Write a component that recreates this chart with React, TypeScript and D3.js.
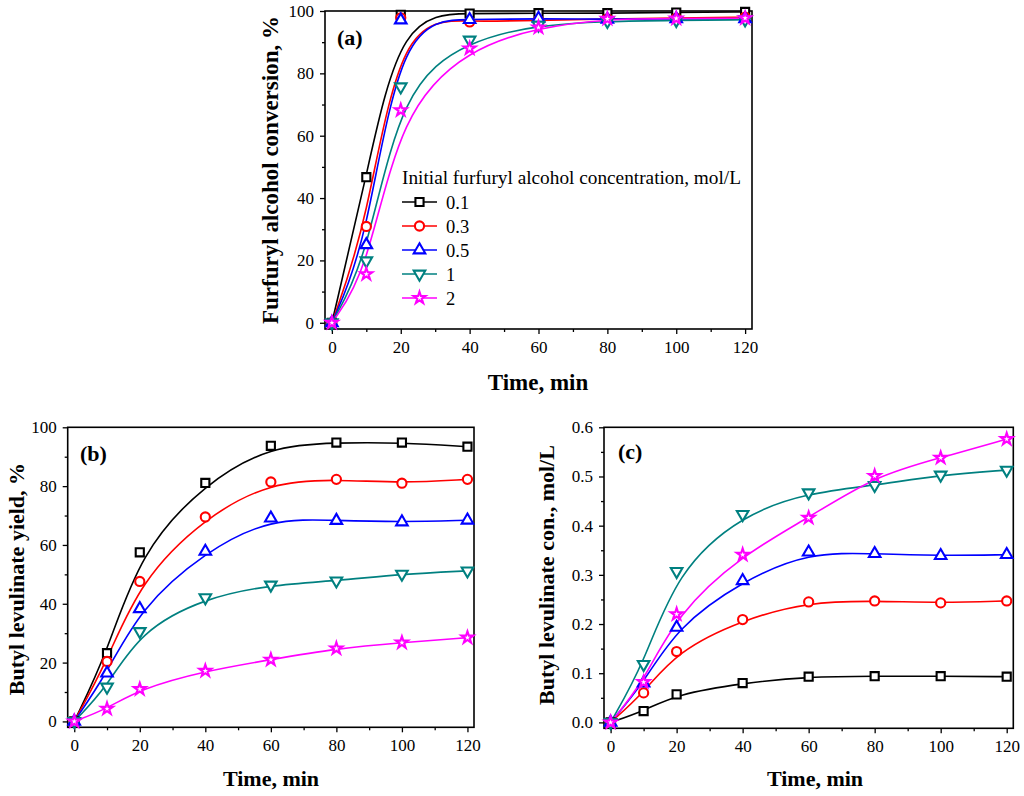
import { useEffect, useRef } from 'react';
import * as d3 from 'd3';

// sampling times, min
const times = [0, 10, 20, 40, 60, 80, 100, 120];
const concLabels = ['0.1', '0.3', '0.5', '1', '2'];
const colors = ['#000000', '#ff0000', '#0000ff', '#008080', '#ff00ff'];

// (a) furfuryl alcohol conversion, %
const convA01 = [0, 46.7, 98.8, 99.2, 99.3, 99.3, 99.5, 99.7];
const convA03 = [0, 30.9, 97.8, 96.5, 97.0, 97.5, 97.7, 98.0];
const convA05 = [0, 25.0, 97.1, 97.2, 97.6, 97.3, 97.5, 97.5];
const convA1 = [0, 19.9, 75.7, 90.7, 95.5, 96.7, 97.0, 97.2];
const convA2 = [0, 15.6, 68.2, 88.0, 94.7, 97.5, 97.6, 97.7];

// (b) butyl levulinate yield, %
const yieldB01 = [0, 23.2, 57.5, 81.1, 93.7, 94.8, 94.8, 93.4];
const yieldB03 = [0, 20.4, 47.6, 69.5, 81.4, 82.3, 81.0, 82.3];
const yieldB05 = [0, 16.4, 38.3, 57.8, 69.1, 68.3, 67.8, 68.4];
const yieldB1 = [0, 11.7, 30.6, 42.1, 46.4, 47.8, 50.1, 51.2];
const yieldB2 = [0, 4.3, 11.0, 17.2, 21.0, 24.8, 26.8, 28.5];

// (c) butyl levulinate concentration, mol/L
const concC01 = [0, 0.023, 0.057, 0.080, 0.093, 0.094, 0.094, 0.093];
const concC03 = [0, 0.060, 0.144, 0.209, 0.245, 0.247, 0.243, 0.247];
const concC05 = [0, 0.080, 0.193, 0.288, 0.346, 0.343, 0.339, 0.341];
const concC1 = [0, 0.118, 0.307, 0.423, 0.467, 0.482, 0.503, 0.513];
const concC2 = [0, 0.082, 0.220, 0.341, 0.416, 0.501, 0.538, 0.576];

const xMajor = [0, 20, 40, 60, 80, 100, 120];
const xMinor = [10, 30, 50, 70, 90, 110];
const pctMajor = [0, 20, 40, 60, 80, 100];
const pctMinor = [10, 30, 50, 70, 90];
const molMajor = [0, 0.1, 0.2, 0.3, 0.4, 0.5, 0.6];
const molMinor = [0.05, 0.15, 0.25, 0.35, 0.45, 0.55];

const FONT = '"Liberation Serif", "Times New Roman", serif';

const symbolTypes = [d3.symbolSquare, d3.symbolCircle, d3.symbolTriangle, d3.symbolTriangle, d3.symbolStar];
const symbolSizes = [66, 66, 58, 58, 44];
const symbolRotate = [0, 0, 0, 180, 0];

interface PanelSpec {
  tag: string;
  box: [number, number, number, number]; // left, top, right, bottom
  yDomain: [number, number];
  yMajor: number[];
  yMinor: number[];
  yFormat: (v: number) => string;
  series: number[][];
  yTitle: string;
  yTitlePos: [number, number];
  xTitlePos: [number, number];
  tagPos: [number, number];
  titleSize: number;
}

const panels: PanelSpec[] = [
  {
    tag: '(a)',
    box: [325, 11, 752, 329],
    yDomain: [-2, 100],
    yMajor: pctMajor,
    yMinor: pctMinor,
    yFormat: d3.format('d'),
    series: [convA01, convA03, convA05, convA1, convA2],
    yTitle: 'Furfuryl alcohol conversion, %',
    yTitlePos: [278, 170],
    xTitlePos: [538, 390],
    tagPos: [337, 45],
    titleSize: 23,
  },
  {
    tag: '(b)',
    box: [67.7, 427.3, 474, 727.3],
    yDomain: [-2, 100],
    yMajor: pctMajor,
    yMinor: pctMinor,
    yFormat: d3.format('d'),
    series: [yieldB01, yieldB03, yieldB05, yieldB1, yieldB2],
    yTitle: 'Butyl levulinate yield, %',
    yTitlePos: [24, 579],
    xTitlePos: [271, 786],
    tagPos: [80, 461],
    titleSize: 22,
  },
  {
    tag: '(c)',
    box: [604, 427.3, 1013.3, 728.3],
    yDomain: [-0.012, 0.6],
    yMajor: molMajor,
    yMinor: molMinor,
    yFormat: d3.format('.1f'),
    series: [concC01, concC03, concC05, concC1, concC2],
    yTitle: 'Butyl levulinate con., mol/L',
    yTitlePos: [554, 575],
    xTitlePos: [815, 786],
    tagPos: [618, 459],
    titleSize: 22,
  },
];

function drawMarker(g: d3.Selection<SVGGElement, unknown, null, undefined>, i: number, cx: number, cy: number) {
  g.append('path')
    .attr('d', d3.symbol().type(symbolTypes[i]).size(symbolSizes[i])() as string)
    .attr('transform', `translate(${cx},${cy}) rotate(${symbolRotate[i]})`)
    .attr('fill', '#fff')
    .attr('stroke', colors[i])
    .attr('stroke-width', 2.1);
}

function drawPanel(svg: d3.Selection<SVGSVGElement, unknown, null, undefined>, p: PanelSpec) {
  const [left, top, right, bottom] = p.box;
  const x = d3.scaleLinear().domain([-2, 122]).range([left, right]);
  const y = d3.scaleLinear().domain(p.yDomain).range([bottom, top]);
  const g = svg.append('g');

  // minor ticks
  g.append('g')
    .attr('transform', `translate(0,${bottom})`)
    .call(d3.axisBottom(x).tickValues(xMinor).tickSize(3).tickSizeOuter(0).tickFormat(() => ''))
    .call(s => s.select('.domain').remove());
  g.append('g')
    .attr('transform', `translate(${left},0)`)
    .call(d3.axisLeft(y).tickValues(p.yMinor).tickSize(3).tickSizeOuter(0).tickFormat(() => ''))
    .call(s => s.select('.domain').remove());

  // major ticks + labels
  const xa = g.append('g')
    .attr('transform', `translate(0,${bottom})`)
    .call(d3.axisBottom(x).tickValues(xMajor).tickSize(5).tickPadding(6.5).tickFormat(d3.format('d')));
  const ya = g.append('g')
    .attr('transform', `translate(${left},0)`)
    .call(d3.axisLeft(y).tickValues(p.yMajor).tickSize(5).tickPadding(6).tickFormat(p.yFormat as any));
  [xa, ya].forEach(a => {
    a.select('.domain').remove();
    a.selectAll('text').attr('font-family', FONT).attr('font-size', 17).attr('fill', '#000');
  });
  g.selectAll('.tick line').attr('stroke', '#000').attr('stroke-width', 1.3);

  // frame
  g.append('rect')
    .attr('x', left).attr('y', top)
    .attr('width', right - left).attr('height', bottom - top)
    .attr('fill', 'none').attr('stroke', '#000').attr('stroke-width', 1.6);

  // curves
  const line = d3.line<number>()
    .x((_, j) => x(times[j]))
    .y(d => y(d))
    .curve(d3.curveBasis);
  p.series.forEach((vals, i) => {
    g.append('path')
      .attr('d', line(vals) as string)
      .attr('fill', 'none')
      .attr('stroke', colors[i])
      .attr('stroke-width', 1.6);
  });

  // markers
  p.series.forEach((vals, i) => {
    const mg = g.append('g');
    vals.forEach((v, j) => drawMarker(mg, i, x(times[j]), y(v)));
  });

  // titles
  g.append('text')
    .attr('transform', `translate(${p.yTitlePos[0]},${p.yTitlePos[1]}) rotate(-90)`)
    .attr('text-anchor', 'middle')
    .attr('font-family', FONT).attr('font-weight', 'bold').attr('font-size', p.titleSize)
    .text(p.yTitle);
  g.append('text')
    .attr('x', p.xTitlePos[0]).attr('y', p.xTitlePos[1])
    .attr('text-anchor', 'middle')
    .attr('font-family', FONT).attr('font-weight', 'bold').attr('font-size', p.titleSize)
    .text('Time, min');
  g.append('text')
    .attr('x', p.tagPos[0]).attr('y', p.tagPos[1])
    .attr('font-family', FONT).attr('font-weight', 'bold').attr('font-size', 22)
    .text(p.tag);
}

export default function App() {
  const svgRef = useRef<SVGSVGElement>(null);

  useEffect(() => {
    const svg = d3.select(svgRef.current as SVGSVGElement);
    svg.selectAll('*').remove();

    panels.forEach(p => drawPanel(svg, p));

    // legend in panel (a)
    const lg = svg.append('g');
    lg.append('text')
      .attr('x', 402).attr('y', 183.5)
      .attr('font-family', FONT).attr('font-size', 19.3)
      .text('Initial furfuryl alcohol concentration, mol/L');
    concLabels.forEach((lab, i) => {
      const cy = 202 + i * 24;
      lg.append('line')
        .attr('x1', 402).attr('x2', 437).attr('y1', cy).attr('y2', cy)
        .attr('stroke', colors[i]).attr('stroke-width', 1.6);
      drawMarker(lg, i, 419.5, cy);
      lg.append('text')
        .attr('x', 446).attr('y', cy + 6.5)
        .attr('font-family', FONT).attr('font-size', 18.5)
        .text(lab);
    });
  }, []);

  return (
    <svg
      ref={svgRef}
      width={1024}
      height={796}
      style={{ position: 'absolute', left: 0, top: 0, background: '#fff' }}
    />
  );
}
